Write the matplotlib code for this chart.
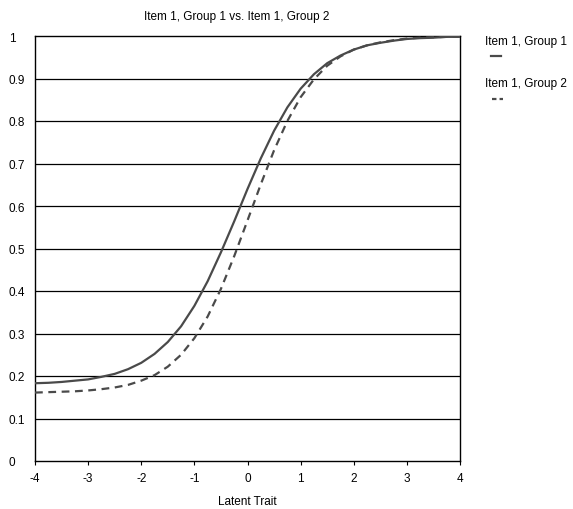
import matplotlib
matplotlib.use("Agg")
import matplotlib.pyplot as plt
from matplotlib.lines import Line2D

plt.rcParams['font.family'] = ['Liberation Sans', 'DejaVu Sans']

title = "Item 1, Group 1 vs. Item 1, Group 2"
xlabel = "Latent Trait"
series_names = ["Item 1, Group 1", "Item 1, Group 2"]

theta = [-4.0, -3.75, -3.5, -3.25, -3.0, -2.75, -2.5, -2.25, -2.0, -1.75, -1.5,
         -1.25, -1.0, -0.75, -0.5, -0.25, 0.0, 0.25, 0.5, 0.75, 1.0, 1.25, 1.5,
         1.75, 2.0, 2.25, 2.5, 2.75, 3.0, 3.25, 3.5, 3.75, 4.0]

group1 = [0.183, 0.184, 0.186, 0.189, 0.192, 0.198, 0.205, 0.216, 0.231, 0.252,
          0.280, 0.317, 0.365, 0.423, 0.491, 0.564, 0.640, 0.712, 0.777, 0.832,
          0.876, 0.910, 0.936, 0.954, 0.968, 0.978, 0.984, 0.989, 0.993, 0.995,
          0.996, 0.998, 0.998]

group2 = [0.161, 0.162, 0.163, 0.164, 0.166, 0.169, 0.173, 0.179, 0.189, 0.202,
          0.222, 0.250, 0.289, 0.340, 0.405, 0.482, 0.566, 0.651, 0.731, 0.800,
          0.856, 0.898, 0.930, 0.952, 0.968, 0.978, 0.985, 0.990, 0.994, 0.996,
          0.997, 0.998, 0.999]

xticks = [-4, -3, -2, -1, 0, 1, 2, 3, 4]
yticks = [0, 0.1, 0.2, 0.3, 0.4, 0.5, 0.6, 0.7, 0.8, 0.9, 1]
ytick_labels = ["0", "0.1", "0.2", "0.3", "0.4", "0.5", "0.6", "0.7", "0.8", "0.9", "1"]

W, H = 573, 510
fig = plt.figure(figsize=(W / 100, H / 100), dpi=100)
ax = fig.add_axes([35 / W, 1 - 462 / H, (460 - 35) / W, (462 - 37) / H])

curve_color = "#4a4a4a"
ax.plot(theta, group1, color=curve_color, lw=1.6, solid_capstyle='butt', zorder=3)
ax.plot(theta, group2, color=curve_color, lw=1.6, linestyle=(0, (3.5, 2.5)), zorder=3)

ax.set_xlim(-4, 4)
ax.set_ylim(0, 1)
ax.set_xticks(xticks)
ax.set_xticklabels([str(t) for t in xticks], fontsize=8.5)
ax.set_yticks(yticks)
ax.set_yticklabels(ytick_labels, fontsize=8.5)
for lab in ax.get_yticklabels():
    lab.set_ha('left')
ax.tick_params(axis='y', length=0, pad=19)
ax.tick_params(axis='x', length=3, direction='out', pad=5, width=0.8)

for y in yticks[1:-1]:
    ax.axhline(y, color='black', lw=0.9, zorder=1)

for s in ax.spines.values():
    s.set_color('black')
    s.set_linewidth(1.0)

fig.text(237 / W, 1 - 17 / H, title, fontsize=8.5, ha='center', va='center')
ax.set_xlabel(xlabel, fontsize=8.5, labelpad=8)

# legend (text above a line sample)
fig.text(485 / W, 1 - 42 / H, series_names[0], fontsize=8.5, va='center', ha='left')
fig.add_artist(Line2D([491 / W, 501 / W], [1 - 57 / H, 1 - 57 / H],
                      color=curve_color, lw=1.6, transform=fig.transFigure))
fig.text(485 / W, 1 - 84 / H, series_names[1], fontsize=8.5, va='center', ha='left')
fig.add_artist(Line2D([492 / W, 503 / W], [1 - 100 / H, 1 - 100 / H],
                      color=curve_color, lw=1.6, linestyle=(0, (2.0, 1.4)),
                      transform=fig.transFigure))

fig.savefig("out.png", dpi=100)
